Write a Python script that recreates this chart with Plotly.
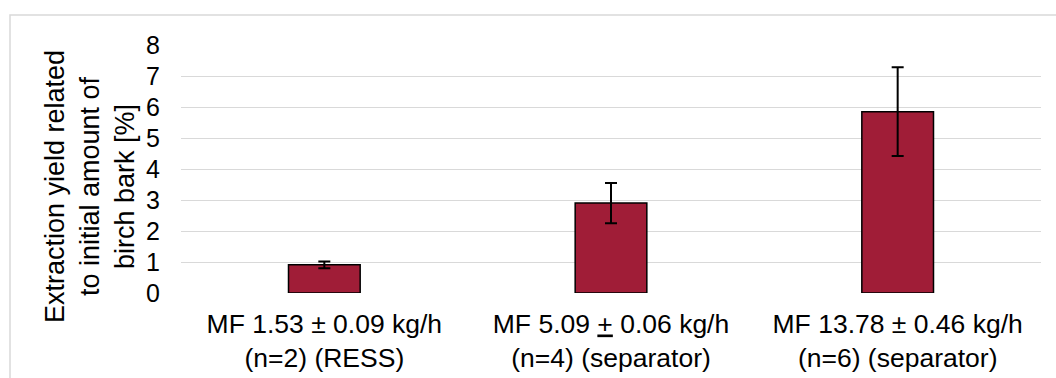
import plotly.graph_objects as go

# Category labels (mass flow and separation set-up)
categories = [
    "MF 1.53 ± 0.09 kg/h<br>(n=2) (RESS)",
    "MF 5.09 <u>+</u> 0.06 kg/h<br>(n=4) (separator)",
    "MF 13.78 ± 0.46 kg/h<br>(n=6) (separator)",
]
# Extraction yield [%] and standard deviation
yield_pct = [0.91, 2.90, 5.85]
yield_sd = [0.11, 0.65, 1.43]
y_ticks = [0, 1, 2, 3, 4, 5, 6, 7, 8]

W, H = 1056, 378
L, R, T, B = 181, 15, 45, 85
pw, ph = W - L - R, H - T - B

def px_x(x):
    return (x - L) / pw

def px_y(y):
    return (H - B - y) / ph

FONT = "Liberation Sans, Arial, sans-serif"

fig = go.Figure(
    go.Bar(
        x=categories,
        y=yield_pct,
        width=0.25,
        marker=dict(color="#A01D37", line=dict(color="#000000", width=1.5)),
        error_y=dict(type="data", array=yield_sd, visible=True,
                     color="#000000", thickness=2, width=6),
    )
)

fig.update_layout(
    width=W, height=H,
    margin=dict(l=L, r=R, t=T, b=B, autoexpand=False),
    paper_bgcolor="white", plot_bgcolor="white",
    showlegend=False,
    font=dict(family=FONT, size=26, color="#000000"),
    xaxis=dict(
        showgrid=False, showline=False, zeroline=False, automargin=False,
        tickfont=dict(size=26.5), ticklabelstandoff=12,
    ),
    yaxis=dict(
        range=[0, 8], tickvals=y_ticks, showgrid=True, automargin=False,
        gridcolor="#d9d9d9", gridwidth=1.3, zeroline=False, showline=False,
        tickfont=dict(size=25), ticklabelstandoff=20,
    ),
    shapes=[
        dict(type="rect", xref="paper", yref="paper",
             x0=px_x(10), x1=px_x(1070), y0=px_y(15), y1=px_y(400),
             line=dict(color="#d9d9d9", width=1.5), fillcolor="rgba(0,0,0,0)",
             layer="below"),
    ],
    annotations=[
        dict(
            text="Extraction yield related<br>to initial amount of<br>birch bark [%]",
            xref="paper", yref="paper", x=px_x(90), y=px_y(187),
            xanchor="center", yanchor="middle", textangle=-90,
            showarrow=False, font=dict(size=27), align="center",
        )
    ],
)

fig.write_html("out.html")
